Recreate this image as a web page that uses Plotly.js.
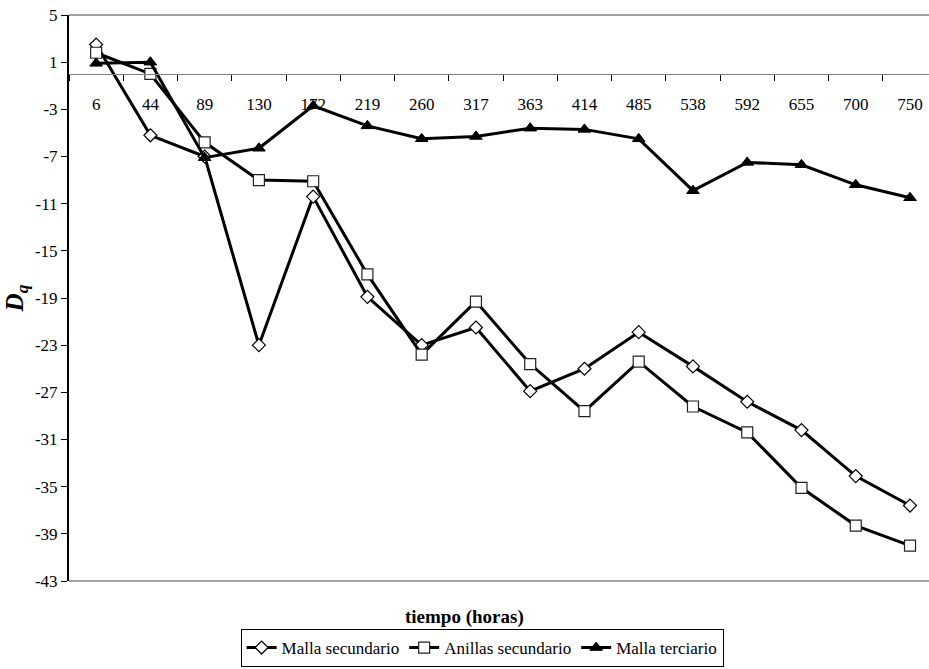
<!DOCTYPE html>
<html>
<head>
<meta charset="utf-8">
<script src="https://cdn.plot.ly/plotly-3.0.1.min.js"></script>
<style>html,body{margin:0;padding:0;background:#fff;}#chart{width:929px;height:669px;}</style>
</head>
<body>
<div id="chart"></div>
<script>
const horas = ["6","44","89","130","172","219","260","317","363","414","485","538","592","655","700","750"];
const mallaSecundario = [2.5,-5.2,-7.0,-23.0,-10.4,-18.9,-23.0,-21.5,-26.9,-25.0,-21.9,-24.8,-27.8,-30.2,-34.1,-36.6];
const anillasSecundario = [1.8,0.0,-5.8,-9.0,-9.1,-17.0,-23.8,-19.3,-24.6,-28.6,-24.4,-28.2,-30.4,-35.1,-38.3,-40.0];
const mallaTerciario = [0.9,1.0,-7.1,-6.3,-2.7,-4.4,-5.5,-5.3,-4.6,-4.7,-5.5,-9.9,-7.5,-7.7,-9.4,-10.5];
const yTicks = [5,1,-3,-7,-11,-15,-19,-23,-27,-31,-35,-39,-43];

const FONT = "Liberation Serif";
const yMin = -43, yMax = 5;

const traces = [
  {x: horas, y: mallaSecundario, name: "Malla secundario", type: "scatter", mode: "lines+markers",
   line: {color: "#000", width: 3},
   marker: {symbol: "diamond", size: 10, color: "#fff", line: {color: "#000", width: 1.2}}},
  {x: horas, y: anillasSecundario, name: "Anillas secundario", type: "scatter", mode: "lines+markers",
   line: {color: "#000", width: 3},
   marker: {symbol: "square", size: 11, color: "#fff", line: {color: "#222", width: 1.2}}},
  {x: horas, y: mallaTerciario, name: "Malla terciario", type: "scatter", mode: "lines+markers",
   line: {color: "#000", width: 3},
   marker: {symbol: "triangle-up", size: 11, color: "#000", line: {color: "#000", width: 1}}}
];

const layout = {
  width: 929, height: 669,
  margin: {l: 69, r: 0, t: 15, b: 88},
  paper_bgcolor: "#fff", plot_bgcolor: "#fff",
  font: {family: FONT, size: 16, color: "#000"},
  showlegend: true,
  legend: {orientation: "h", xref: "container", yref: "container", x: 0.259, xanchor: "left", y: 0.003, yanchor: "bottom",
           bordercolor: "#000", borderwidth: 1, font: {family: FONT, size: 17, color: "#000"},
           itemwidth: 30, tracegroupgap: 0, bgcolor: "#fff"},
  xaxis: {
    type: "category", range: [-0.5, 15.35], anchor: "free", position: (0 - yMin) / (yMax - yMin),
    showline: true, linecolor: "#808080", linewidth: 1.5,
    ticks: "outside", tickson: "boundaries", ticklen: 6, tickcolor: "#000", tickwidth: 1,
    ticklabelstandoff: 14,
    showgrid: false, zeroline: false, fixedrange: true,
    tickfont: {family: FONT, size: 17, color: "#000"}
  },
  yaxis: {
    range: [yMin, yMax], tickvals: yTicks, ticktext: yTicks.map(String),
    showline: true, linecolor: "#000", linewidth: 2,
    ticks: "outside", ticklen: 6, tickcolor: "#000",
    showgrid: false, zeroline: false, fixedrange: true,
    tickfont: {family: FONT, size: 17, color: "#000"},
    title: {text: "<b><i>D<sub>q</sub></i></b>", font: {family: FONT, size: 25, color: "#000"}, standoff: 4}
  },
  shapes: [
    {type: "line", xref: "paper", yref: "paper", x0: 0, x1: 1, y0: 1, y1: 1, line: {color: "#808080", width: 1.5}},
    {type: "line", xref: "paper", yref: "paper", x0: 0, x1: 1, y0: 0, y1: 0, line: {color: "#808080", width: 1.5}}
  ],
  annotations: [
    {text: "<b>tiempo (horas)</b>", xref: "paper", yref: "paper", x: 0.46, y: -0.064, xanchor: "center", yanchor: "middle",
     showarrow: false, font: {family: FONT, size: 19, color: "#000"}}
  ]
};

Plotly.newPlot("chart", traces, layout, {staticPlot: true, displayModeBar: false});
</script>
</body>
</html>
